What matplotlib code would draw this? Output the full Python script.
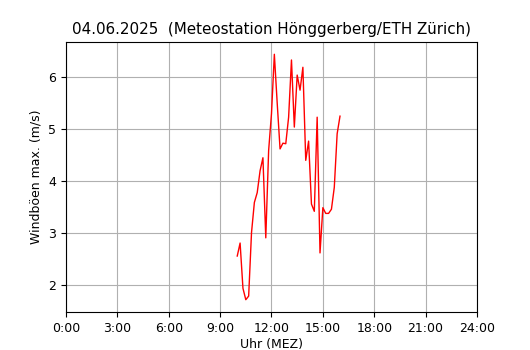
import matplotlib
matplotlib.use("Agg")
import matplotlib.pyplot as plt

# Messzeiten (MEZ) und Windböen max. in m/s
zeiten = ["10:00", "10:10", "10:20", "10:30", "10:40", "10:50",
          "11:00", "11:10", "11:20", "11:30", "11:40", "11:50",
          "12:00", "12:10", "12:20", "12:30", "12:40", "12:50",
          "13:00", "13:10", "13:20", "13:30", "13:40", "13:50",
          "14:00", "14:10", "14:20", "14:30", "14:40", "14:50",
          "15:00", "15:10", "15:20", "15:30", "15:40", "15:50",
          "16:00"]
boeen = [2.56, 2.81, 1.94, 1.72, 1.79, 3.01,
         3.59, 3.78, 4.20, 4.45, 2.91, 4.59,
         5.30, 6.44, 5.50, 4.62, 4.73, 4.72,
         5.23, 6.33, 5.04, 6.04, 5.75, 6.19,
         4.40, 4.77, 3.56, 3.42, 5.23, 2.62,
         3.49, 3.38, 3.38, 3.46, 3.88, 4.91,
         5.25]

tick_stunden = [0, 3, 6, 9, 12, 15, 18, 21, 24]
tick_labels = ["0:00", "3:00", "6:00", "9:00", "12:00", "15:00", "18:00", "21:00", "24:00"]

stunden = [int(z.split(":")[0]) + int(z.split(":")[1]) / 60 for z in zeiten]

fig = plt.figure(figsize=(5.3, 3.5), dpi=100)
ax = fig.add_axes([0.1245, 0.1086, 0.7755, 0.7714])

ax.plot(stunden, boeen, color="red", linewidth=1)
ax.set_xlim(0, 24)
ax.set_xticks(tick_stunden)
ax.set_xticklabels(tick_labels)
ax.grid(True)

ax.set_title("04.06.2025  (Meteostation Hönggerberg/ETH Zürich)", fontsize=10.9)
ax.set_xlabel("Uhr (MEZ)", fontsize=9, labelpad=2.5)
ax.set_ylabel("Windböen max. (m/s)", fontsize=9)
ax.tick_params(labelsize=9)

fig.savefig("out.png", dpi=100)
